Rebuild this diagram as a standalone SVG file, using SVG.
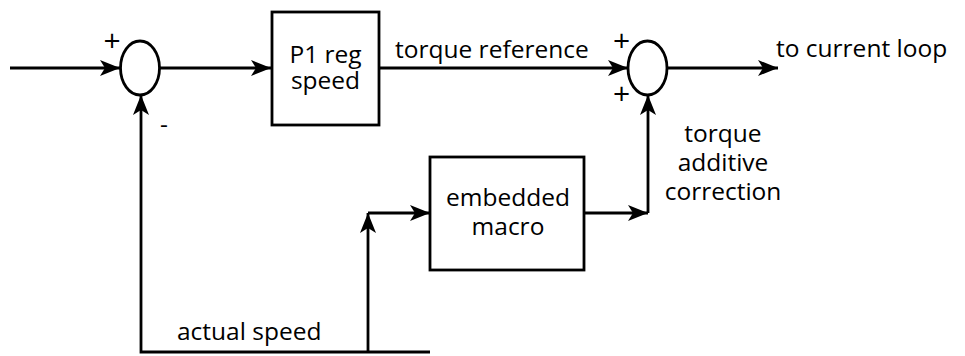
<svg xmlns="http://www.w3.org/2000/svg" width="965" height="356" viewBox="0 0 965 356">
<style>
.ln{fill:none;stroke:#000;stroke-width:2.8}
.bx{fill:#fff;stroke:#000;stroke-width:2.8}
.t{font-family:"Open Sans",sans-serif;font-size:24.5px;fill:#000}
.s{font-family:"Open Sans",sans-serif;font-size:30px;fill:#000;text-anchor:middle}
.c{text-anchor:middle}
</style>
<defs>
<marker id="ar" markerUnits="userSpaceOnUse" markerWidth="22" markerHeight="18" refX="20" refY="8" orient="auto">
<path d="M0,0 L20,8 L0,16 L5,8 Z" fill="#000"/>
</marker>
</defs>
<rect width="965" height="356" fill="#fff"/>
<g id="connectors">
<line class="ln" x1="10" y1="68" x2="120" y2="68" marker-end="url(#ar)"/>
<line class="ln" x1="159" y1="68" x2="271" y2="68" marker-end="url(#ar)"/>
<line class="ln" x1="379" y1="68" x2="628" y2="68" marker-end="url(#ar)"/>
<line class="ln" x1="667" y1="68" x2="778" y2="68" marker-end="url(#ar)"/>
<polyline class="ln" points="584,213 648,213" marker-end="url(#ar)"/>
<polyline class="ln" points="648,213 648,95" marker-end="url(#ar)"/>
<polyline class="ln" points="430,352 141,352 141,95" marker-end="url(#ar)"/>
<polyline class="ln" points="368,352 368,213" marker-end="url(#ar)"/>
<polyline class="ln" points="368,213 430,213" marker-end="url(#ar)"/>
</g>
<g id="sum1">
<ellipse class="bx" cx="140" cy="68" rx="19.5" ry="27"/>
<text class="s" x="112" y="51">+</text>
<text class="t c" x="164" y="133">-</text>
</g>
<g id="p1reg">
<rect class="bx" x="272" y="12" width="107" height="113"/>
<text class="t c" x="325.5" y="63">P1 reg</text>
<text class="t c" x="325.5" y="89">speed</text>
</g>
<g id="sum2">
<ellipse class="bx" cx="647.5" cy="68" rx="19.5" ry="27"/>
<text class="s" x="621.5" y="51">+</text>
<text class="s" x="621.5" y="104">+</text>
</g>
<g id="macro">
<rect class="bx" x="430" y="157" width="154" height="113"/>
<text class="t c" x="508" y="206">embedded</text>
<text class="t c" x="508" y="235">macro</text>
</g>
<g id="labels">
<text class="t" x="395" y="58">torque reference</text>
<text class="t" x="776" y="57">to current loop</text>
<text class="t c" x="723" y="142">torque</text>
<text class="t c" x="723" y="171">additive</text>
<text class="t c" x="723" y="200">correction</text>
<text class="t" x="177" y="340">actual speed</text>
</g>
</svg>
